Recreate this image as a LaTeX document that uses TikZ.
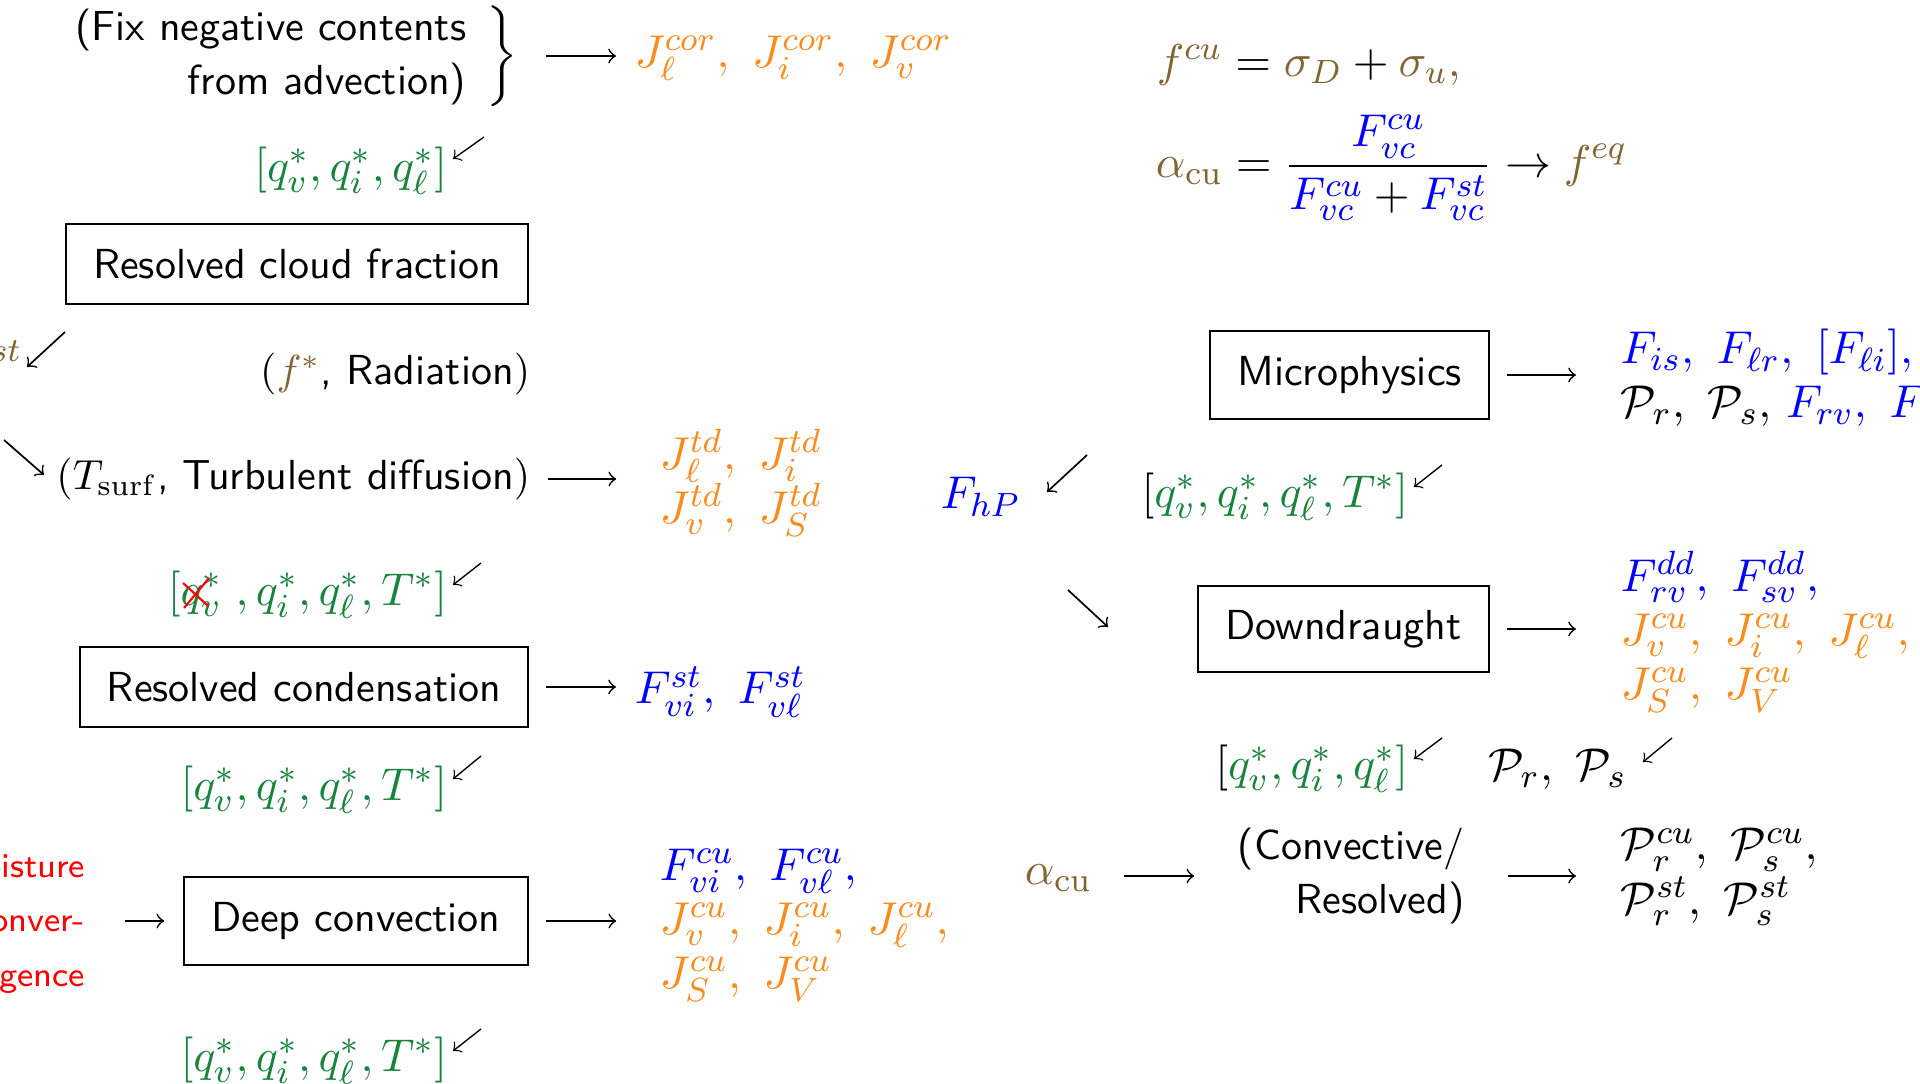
\documentclass[tikz,border=0pt]{standalone}
\definecolor{cor}{RGB}{250,140,30}
\definecolor{cgr}{RGB}{25,130,60}
\definecolor{cbr}{RGB}{130,100,50}
\definecolor{cbl}{RGB}{0,0,255}
\definecolor{crd}{RGB}{255,0,0}
\begin{document}
\begin{tikzpicture}[x=0.2381pt,y=-0.2381pt,
  sans/.style={inner sep=0pt,font=\sffamily\fontsize{10pt}{12.9pt}\selectfont},
  mth/.style={inner sep=0pt,font=\fontsize{10.95pt}{12.9pt}\selectfont},
  procbox/.style={draw,line width=0.45pt,inner sep=0pt,font=\sffamily\fontsize{10pt}{12.9pt}\selectfont},
  arr/.style={->,line width=0.4pt},
  arrsm/.style={->,line width=0.32pt}]
\useasboundingbox (0,0) rectangle (1920,1084);
\clip (0,0) rectangle (1920,1084);

% ---------------- left column ----------------
\node[sans,align=right,anchor=east] (fix) at (467,57) {(Fix negative contents\\from advection)};
\node[mth,minimum width=20.5pt] (brace) at (502,56) {$\bigg\}$};
\node[mth,anchor=west,text=cor] (jcor) at (634,58) {$J^{cor}_\ell,\ J^{cor}_i,\ J^{cor}_v$};
\draw[arr,shorten >=4.3pt] (brace.east) -- (brace.east -| jcor.west);

\node[mth,anchor=east,text=cgr] (q1) at (448,171) {$[q_v^*,q_i^*,q_\ell^*]$};
\coordinate (d1s) at (484,137); \coordinate (d1e) at (453,159);
\draw[arrsm] (d1s) -- (d1e);

\node[procbox,minimum width=110pt,minimum height=19pt] (rcf) at (297,264) {Resolved cloud fraction};

\node[mth,anchor=base east,text=cbr] (st) at (21,362) {$\scriptstyle st$};
\coordinate (d2s) at (65,332); \coordinate (d2e) at (27,367);
\draw[arr] (d2s) -- (d2e);

\node[sans,anchor=east] (rad) at (531,374) {$($\textcolor{cbr}{$f^*$}, Radiation$)$};

\coordinate (d3s) at (4,440); \coordinate (d3e) at (44,475);
\draw[arr] (d3s) -- (d3e);
\node[sans,anchor=east] (td) at (531,479) {$(T_{\mathrm{surf}}$, Turbulent diffusion$)$};
\node[mth,anchor=west,align=left,text=cor] (jtd) at (659,483) {$J^{td}_\ell,\ J^{td}_i$\\$J^{td}_v,\ J^{td}_S$};
\draw[arr,shorten <=4.05pt,shorten >=10.2pt] (td.east) -- (td.east -| jtd.west);

\node[mth,anchor=east,text=cgr] (q2) at (448,595) {$[q_v^*\;,q_i^*,q_\ell^*,T^*]$};
\draw[crd,line width=0.5pt] ([shift={(16,-12)}]q2.west) -- ([shift={(41,11)}]q2.west);
\draw[crd,line width=0.5pt] ([shift={(17,13)}]q2.west) -- ([shift={(42,-17)}]q2.west);
\coordinate (d4s) at (481,563); \coordinate (d4e) at (453,585);
\draw[arrsm] (d4s) -- (d4e);

\node[procbox,minimum width=106.7pt,minimum height=19pt] (rc) at (304,687) {Resolved condensation};
\node[mth,anchor=west,text=cbl] (fst) at (634,692) {$F^{st}_{vi},\ F^{st}_{v\ell}$};
\draw[arr,shorten <=4.05pt,shorten >=4.3pt] (rc.east) -- (rc.east -| fst.west);

\node[mth,anchor=east,text=cgr] (q3) at (448,790) {$[q_v^*,q_i^*,q_\ell^*,T^*]$};
\coordinate (d5s) at (481,756); \coordinate (d5e) at (453,779);
\draw[arrsm] (d5s) -- (d5e);

\node[inner sep=0pt,anchor=east,align=right,text=crd,font=\sffamily\fontsize{8.2pt}{12.9pt}\selectfont] (mc) at (86,924) {oisture\\onver-\\gence};
\node[procbox,minimum width=81.9pt,minimum height=21pt] (dc) at (356,921) {Deep convection};
\draw[arr,shorten <=9.3pt,shorten >=4.5pt] (dc.west -| mc.east) -- (dc.west);
\node[mth,anchor=west,align=left] (jcu) at (659,925) {\textcolor{cbl}{$F^{cu}_{vi},\ F^{cu}_{v\ell},$}\\\textcolor{cor}{$J^{cu}_v,\ J^{cu}_i,\ J^{cu}_\ell,$}\\\textcolor{cor}{$J^{cu}_S,\ J^{cu}_V$}};
\draw[arr,shorten <=4.05pt,shorten >=10.2pt] (dc.east) -- (dc.east -| jcu.west);

\node[mth,anchor=east,text=cgr] (q4) at (448,1061) {$[q_v^*,q_i^*,q_\ell^*,T^*]$};
\coordinate (d6s) at (481,1029); \coordinate (d6e) at (453,1051);
\draw[arrsm] (d6s) -- (d6e);

% ---------------- right column ----------------
\node[mth,anchor=west] (fcu) at (1156,65) {$\textcolor{cbr}{f^{cu}} = \textcolor{cbr}{\sigma_D} + \textcolor{cbr}{\sigma_u,}$};
\node[mth,anchor=west] (aeq) at (1155,168) {$\displaystyle \textcolor{cbr}{\alpha_{\mathrm{cu}}} = \frac{\textcolor{cbl}{F^{cu}_{vc}}}{\textcolor{cbl}{F^{cu}_{vc}} + \textcolor{cbl}{F^{st}_{vc}}} \rightarrow \textcolor{cbr}{f^{eq}}$};

\node[procbox,minimum width=66.4pt,minimum height=21pt] (mp) at (1349.5,375) {Microphysics};
\node[mth,anchor=west,align=left] (mpo) at (1620,378) {\textcolor{cbl}{$F_{is},\ F_{\ell r},\ [F_{\ell i}],$}\\$\mathcal{P}_r,\ \mathcal{P}_s,\ $\textcolor{cbl}{$F_{rv},\ F$}};
\draw[arr,shorten <=4.05pt,shorten >=10.5pt] (mp.east) -- (mp.east -| mpo.west);

\node[mth,anchor=west,text=cbl] (fhp) at (940,497) {$F_{hP}$};
\coordinate (d7s) at (1087,455); \coordinate (d7e) at (1047,492);
\draw[arr] (d7s) -- (d7e);
\node[mth,anchor=east] (qm) at (1409,497) {$[\textcolor{cgr}{q_v^*,q_i^*,q_\ell^*,T^*]}$};
\coordinate (d8s) at (1442,465); \coordinate (d8e) at (1414,487);
\draw[arrsm] (d8s) -- (d8e);

\coordinate (d9s) at (1068,590); \coordinate (d9e) at (1108,627);
\draw[arr] (d9s) -- (d9e);
\node[procbox,minimum width=69.3pt,minimum height=20.5pt] (dd) at (1343.5,629) {Downdraught};
\node[mth,anchor=west,align=left] (ddo) at (1620,632) {\textcolor{cbl}{$F^{dd}_{rv},\ F^{dd}_{sv},$}\\\textcolor{cor}{$J^{cu}_v,\ J^{cu}_i,\ J^{cu}_\ell,$}\\\textcolor{cor}{$J^{cu}_S,\ J^{cu}_V$}};
\draw[arr,shorten <=4.05pt,shorten >=10.5pt] (dd.east) -- (dd.east -| ddo.west);

\node[mth,anchor=east] (qd) at (1409,769) {$[\textcolor{cgr}{q_v^*,q_i^*,q_\ell^*]}$};
\coordinate (d10s) at (1442,738); \coordinate (d10e) at (1414,759);
\draw[arrsm] (d10s) -- (d10e);
\node[mth,anchor=west] (prs) at (1488,769) {$\mathcal{P}_r,\ \mathcal{P}_s$};
\coordinate (d11s) at (1672,738); \coordinate (d11e) at (1643,762);
\draw[arrsm] (d11s) -- (d11e);

\node[mth,anchor=east,text=cbr] (acu) at (1093,878) {$\alpha_{\mathrm{cu}}$};
\node[sans,anchor=west,align=right] (conv) at (1237,876) {(Convective/\\Resolved)};
\draw[arr,shorten <=7.4pt,shorten >=10.2pt] (conv.west -| acu.east) -- (conv.west);
\node[mth,anchor=west,align=left] (po) at (1620,877) {$\mathcal{P}^{cu}_r,\ \mathcal{P}^{cu}_s,$\\$\mathcal{P}^{st}_r,\ \mathcal{P}^{st}_s$};
\draw[arr,shorten <=10.2pt,shorten >=10.5pt] (conv.east) -- (conv.east -| po.west);
\end{tikzpicture}
\end{document}
